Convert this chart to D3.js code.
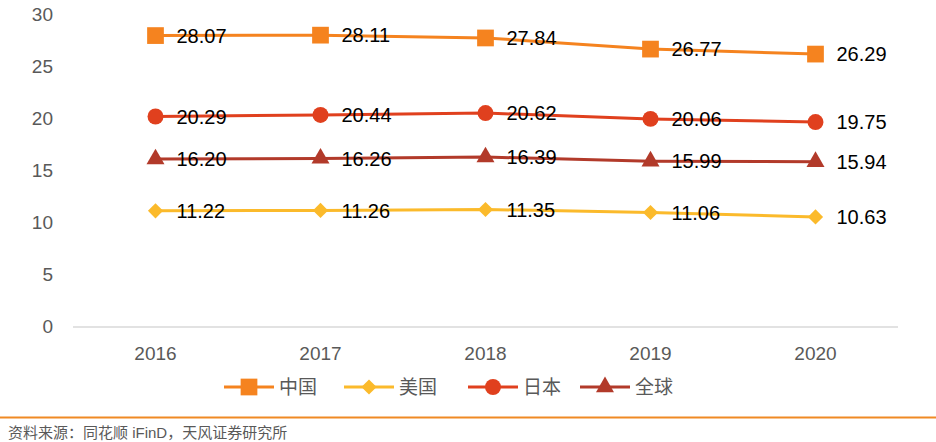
<!DOCTYPE html>
<html><head><meta charset="utf-8">
<script src="https://cdn.jsdelivr.net/npm/d3@7"></script>
<style>body{margin:0;background:#fff}svg{display:block}</style>
</head><body>
<svg id="c" width="936" height="442"></svg>
<script>
const years = ["2016","2017","2018","2019","2020"];
const seriesNames = ["中国","美国","日本","全球"];
const china = [28.07,28.11,27.84,26.77,26.29];
const usa = [11.22,11.26,11.35,11.06,10.63];
const japan = [20.29,20.44,20.62,20.06,19.75];
const world = [16.20,16.26,16.39,15.99,15.94];
const yTicks = [0,5,10,15,20,25,30];
const sourceText = "资料来源：同花顺 iFinD，天风证券研究所";

const series = [
  {name:seriesNames[0], values:china, color:"#F5831F", sym:d3.symbolSquare, size:280, rot:0},
  {name:seriesNames[1], values:usa, color:"#FBBA2B", sym:d3.symbolSquare, size:115, rot:45},
  {name:seriesNames[2], values:japan, color:"#E0401E", sym:d3.symbolCircle, size:200, rot:0},
  {name:seriesNames[3], values:world, color:"#B23A2A", sym:d3.symbolTriangle, size:140, rot:0}
];

const svg = d3.select("#c");
const font = "Arial, 'Liberation Sans', 'Noto Sans CJK SC', sans-serif";
const x = d3.scaleBand().domain(years).range([73,898]);
const y = d3.scaleLinear().domain([0,30]).range([327.5,15.5]);

// y tick labels
svg.append("g").selectAll("text").data(yTicks).join("text")
  .attr("x",53).attr("y",d=>y(d)-1.5).attr("dy","0.35em")
  .attr("text-anchor","end").attr("font-family",font).attr("font-size",19)
  .attr("fill","#595959").text(d=>d);

// x axis line
svg.append("line").attr("x1",73).attr("x2",898).attr("y1",y(0)-0.5).attr("y2",y(0)-0.5)
  .attr("stroke","#D9D9D9").attr("stroke-width",1.5);
svg.append("g").selectAll("text").data(years).join("text")
  .attr("x",d=>x(d)+x.bandwidth()/2).attr("y",360)
  .attr("text-anchor","middle").attr("font-family",font).attr("font-size",19)
  .attr("fill","#595959").text(d=>d);

const cx = d=>x(d)+x.bandwidth()/2;
const line = d3.line().x((d,i)=>cx(years[i])).y(d=>y(d));

series.forEach(s=>{
  svg.append("path").attr("d",line(s.values)).attr("fill","none")
    .attr("stroke",s.color).attr("stroke-width",3);
});
series.forEach(s=>{
  svg.append("g").selectAll("path").data(s.values).join("path")
    .attr("transform",(d,i)=>`translate(${cx(years[i])},${y(d)}) rotate(${s.rot})`)
    .attr("d",d3.symbol().type(s.sym).size(s.size)).attr("fill",s.color);
});
series.forEach(s=>{
  svg.append("g").selectAll("text").data(s.values).join("text")
    .attr("x",(d,i)=>cx(years[i])+21).attr("y",d=>y(d)).attr("dy","0.36em")
    .attr("font-family",font).attr("font-size",20).attr("fill","#000")
    .text(d=>d.toFixed(2));
});

// legend
const legX = [224,344,468,580];
series.forEach((s,i)=>{
  const g = svg.append("g").attr("transform",`translate(${legX[i]},387)`);
  g.append("line").attr("x1",0).attr("x2",50).attr("stroke",s.color).attr("stroke-width",3);
  g.append("path").attr("transform",`translate(25,0) rotate(${s.rot})`)
    .attr("d",d3.symbol().type(s.sym).size(s.size)).attr("fill",s.color);
  g.append("text").attr("x",55).attr("dy","0.36em").attr("font-family",font)
    .attr("font-size",19).attr("fill","#595959").text(s.name);
});

// bottom rule and source
svg.append("line").attr("x1",0).attr("x2",936).attr("y1",417.5).attr("y2",417.5)
  .attr("stroke","#F08A24").attr("stroke-width",2);
svg.append("text").attr("x",8).attr("y",438).attr("font-family",font)
  .attr("font-size",15).attr("fill","#595959").text(sourceText);
</script>
</body></html>
